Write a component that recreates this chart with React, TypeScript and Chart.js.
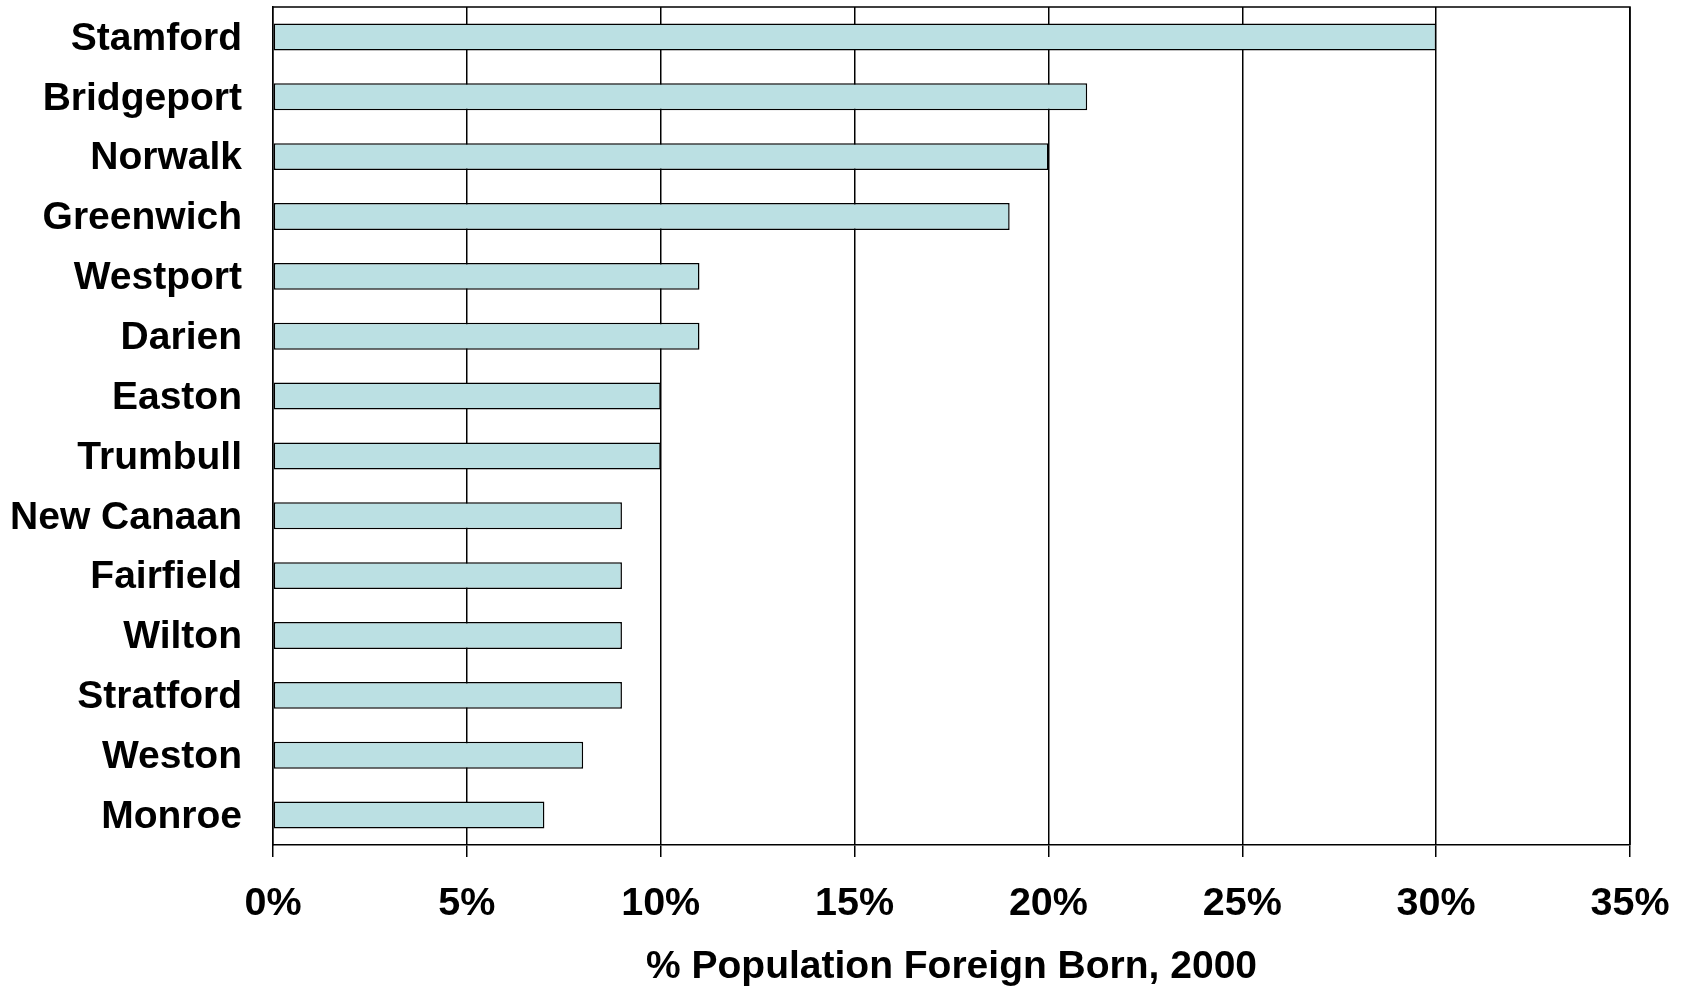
import React, { useEffect, useRef } from "react";
import { Chart, registerables } from "chart.js";

Chart.register(...registerables);

const towns = [
  "Stamford", "Bridgeport", "Norwalk", "Greenwich", "Westport", "Darien", "Easton",
  "Trumbull", "New Canaan", "Fairfield", "Wilton", "Stratford", "Weston", "Monroe",
];
const foreignBornPct = [30, 21, 20, 19, 11, 11, 10, 10, 9, 9, 9, 9, 8, 7];
const xTickValues = [0, 5, 10, 15, 20, 25, 30, 35];
const axisTitle = "% Population Foreign Born, 2000";

const FONT = "'Liberation Sans', Arial, sans-serif";

const borderPlugin = {
  id: "plotBorder",
  afterDraw(chart: any) {
    const { ctx, chartArea } = chart;
    ctx.save();
    ctx.strokeStyle = "#000";
    ctx.lineWidth = 1.5;
    ctx.beginPath();
    ctx.moveTo(chartArea.left, chartArea.top);
    ctx.lineTo(chartArea.right, chartArea.top);
    ctx.lineTo(chartArea.right, chartArea.bottom);
    ctx.stroke();
    ctx.restore();
  },
};

export default function App() {
  const ref = useRef<HTMLCanvasElement | null>(null);
  useEffect(() => {
    document.body.style.margin = "0";
    const canvas = ref.current;
    if (!canvas) return;
    const chart = new Chart(canvas, {
      type: "bar",
      data: {
        labels: towns,
        datasets: [
          {
            data: foreignBornPct,
            backgroundColor: "#BBE0E3",
            borderColor: "#000",
            borderWidth: 1.5,
            borderSkipped: false,
            barPercentage: 0.45,
            categoryPercentage: 1,
          },
        ],
      },
      options: {
        indexAxis: "y",
        animation: false,
        responsive: false,
        maintainAspectRatio: false,
        layout: { padding: { top: 7, right: 56, left: 0, bottom: 0 } },
        plugins: { legend: { display: false }, tooltip: { enabled: false }, title: { display: false } },
        scales: {
          x: {
            type: "linear",
            min: 0,
            max: 35,
            afterBuildTicks: (scale: any) => {
              scale.ticks = xTickValues.map((v) => ({ value: v }));
            },
            afterFit: (scale: any) => {
              scale.height = 141;
              scale.paddingLeft = 0;
              scale.paddingRight = 0;
            },
            grid: {
              color: "#000",
              lineWidth: 1.5,
              drawTicks: true,
              tickLength: 12,
            },
            border: { display: true, color: "#000", width: 1.5 },
            ticks: {
              color: "#000",
              padding: 23,
              maxRotation: 0,
              font: { family: FONT, size: 39.5, weight: "bold" },
              callback: (v: any) => `${v}%`,
            },
            title: {
              display: true,
              text: axisTitle,
              color: "#000",
              font: { family: FONT, size: 39, weight: "bold" },
              padding: { top: 0, bottom: -5 },
            },
          },
          y: {
            type: "category",
            afterFit: (scale: any) => {
              scale.width = 273;
              scale.paddingTop = 0;
              scale.paddingBottom = 0;
            },
            grid: { display: false, drawTicks: false },
            border: { display: true, color: "#000", width: 1.5 },
            ticks: {
              color: "#000",
              padding: 31,
              labelOffset: 2,
              autoSkip: false,
              font: { family: FONT, size: 39, weight: "bold" },
            },
          },
        },
      },
      plugins: [borderPlugin],
    });
    return () => chart.destroy();
  }, []);
  return (
    <div style={{ width: 1686, height: 986, background: "#fff" }}>
      <canvas ref={ref} width={1686} height={986} style={{ display: "block" }} />
    </div>
  );
}
